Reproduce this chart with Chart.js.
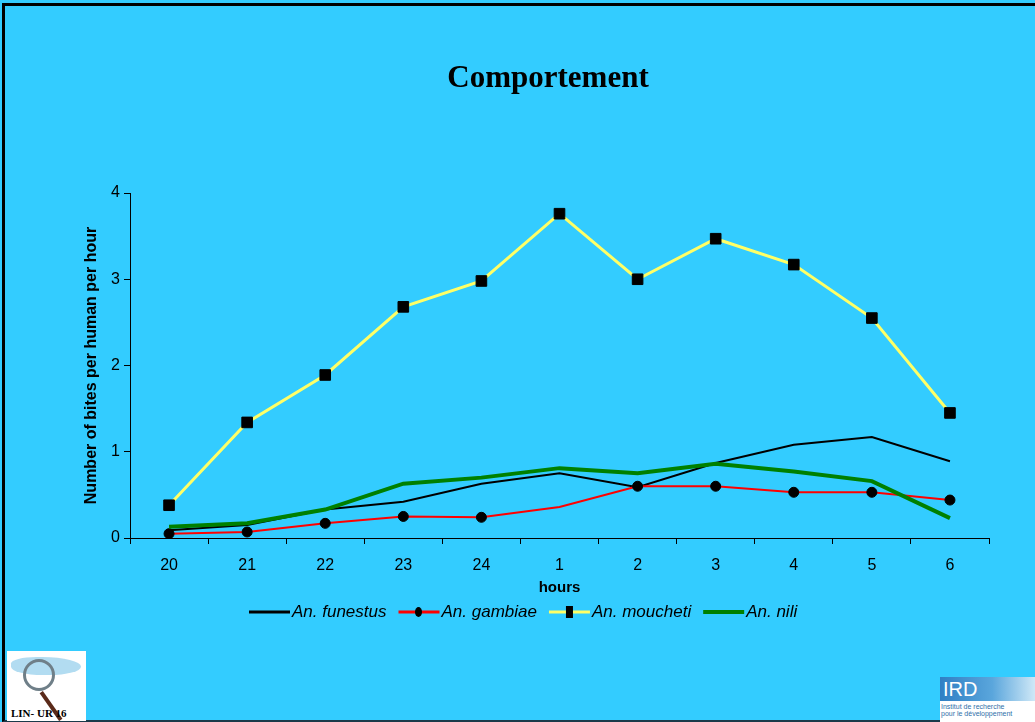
<!DOCTYPE html>
<html>
<head>
<meta charset="utf-8">
<title>Comportement</title>
<script src="https://cdn.jsdelivr.net/npm/chart.js@4.4.0/dist/chart.umd.min.js"></script>
<style>
    html, body { margin: 0; padding: 0; }
    body { width: 1035px; height: 722px; background: #33CCFF; position: relative; overflow: hidden; }
    #frame { position: absolute; left: 2px; top: 3px; width: 1040px; height: 714px;
             border-left: 3px solid #000; border-top: 3px solid #000; border-bottom: 2px solid #1a3a4a; }
    #myChart { position: absolute; left: 0; top: 0; }
    .logo-lin { position: absolute; left: 7px; top: 651px; width: 79px; height: 70px; background: #fff; overflow: hidden; }
    .logo-lin .map { position: absolute; left: 4px; top: 6px; width: 70px; height: 18px; background: #9fd3ee; border-radius: 40% 60% 50% 50%; opacity: .8; }
    .logo-lin .lens { position: absolute; left: 16px; top: 8px; width: 26px; height: 26px; border: 3px solid #6f7f88; border-radius: 50%; }
    .logo-lin .handle { position: absolute; left: 42px; top: 38px; width: 4px; height: 34px; background: #5a2a1a; transform: rotate(-35deg); }
    .logo-lin span { position: absolute; left: 4px; bottom: 2px; font: bold 11px "Liberation Serif", serif; color: #000; }
    .logo-ird { position: absolute; left: 940px; top: 677px; width: 95px; height: 45px; background: #fff; overflow: hidden; }
    .logo-ird .band { position: absolute; left: 0; top: 0; width: 95px; height: 24px;
                      background: linear-gradient(90deg, #2f7fc4 0%, #5aa6dc 55%, #cfe8f7 100%); }
    .logo-ird .band b { position: absolute; left: 3px; top: 1px; font: 20px "Liberation Sans", sans-serif; color: #fff; }
    .logo-ird small { position: absolute; left: 1px; top: 26px; font: 7px "Liberation Sans", sans-serif; color: #2f6fa8; white-space: nowrap; }
</style>
</head>
<body>
<div id="frame"></div>
<canvas id="myChart" width="1035" height="722"></canvas>
<div class="logo-lin"><div class="map"></div><div class="lens"></div><div class="handle"></div><span>LIN- UR 16</span></div>
<div class="logo-ird"><div class="band"><b>IRD</b></div><small>Institut de recherche<br>pour le développement</small></div>
<script>
// Titres et catégories
const chartTitle = 'Comportement';
const xTitle = 'hours';
const yTitle = 'Number of bites per human per hour';
const hours = ['20', '21', '22', '23', '24', '1', '2', '3', '4', '5', '6'];
const yTicks = [0, 1, 2, 3, 4];

// Valeurs (piqûres par homme par heure)
const funestus = [0.09, 0.15, 0.33, 0.42, 0.63, 0.75, 0.59, 0.87, 1.08, 1.17, 0.89];
const gambiae  = [0.05, 0.07, 0.17, 0.25, 0.24, 0.36, 0.60, 0.60, 0.53, 0.53, 0.44];
const moucheti = [0.38, 1.34, 1.89, 2.68, 2.98, 3.76, 3.00, 3.47, 3.17, 2.55, 1.45];
const nili     = [0.13, 0.17, 0.33, 0.63, 0.70, 0.81, 0.75, 0.86, 0.77, 0.66, 0.23];

// Titre + légende dessinés à la main (style diapo)
const slideDecor = {
    id: 'slideDecor',
    afterDraw(chart) {
        const ctx = chart.ctx;
        ctx.save();
        ctx.fillStyle = '#000';
        ctx.font = 'bold 31px "Liberation Serif"';
        ctx.textAlign = 'center';
        ctx.textBaseline = 'middle';
        ctx.fillText(chartTitle, 548, 79);

        ctx.font = 'italic 17px "Liberation Sans"';
        ctx.textAlign = 'left';
        let x = 249;
        const y = 612;
        // ordre de la légende = ordre des séries
        chart.data.datasets.forEach(ds => {
            ctx.strokeStyle = ds.borderColor;
            ctx.lineWidth = Math.max(ds.borderWidth, 3);
            ctx.beginPath();
            ctx.moveTo(x, y);
            ctx.lineTo(x + 41, y);
            ctx.stroke();
            ctx.fillStyle = '#000';
            if (ds.legendMarker === 'circle') {
                ctx.beginPath();
                ctx.ellipse(x + 20, y, 3.5, 5, 0, 0, Math.PI * 2);
                ctx.fill();
            } else if (ds.legendMarker === 'rect') {
                ctx.fillRect(x + 17, y - 6, 7, 12);
            }
            ctx.fillStyle = '#000';
            ctx.fillText(ds.label, x + 43, y);
            x += 43 + ctx.measureText(ds.label).width + 12;
        });
        ctx.restore();
    }
};

const ctx = document.getElementById('myChart').getContext('2d');
const myChart = new Chart(ctx, {
    type: 'line',
    data: {
        labels: hours,
        datasets: [{
            label: 'An. funestus',
            data: funestus,
            borderColor: '#000000',
            borderWidth: 2,
            pointRadius: 0,
            order: 4
        }, {
            label: 'An. gambiae',
            data: gambiae,
            borderColor: '#FF0000',
            borderWidth: 2,
            pointStyle: 'circle',
            pointRadius: [5, 5, 5, 5, 5, 0, 5, 5, 5, 5, 5], // pas de marqueur à 1h
            pointBackgroundColor: '#000',
            pointBorderColor: '#000',
            pointBorderWidth: 1,
            legendMarker: 'circle',
            order: 3
        }, {
            label: 'An. moucheti',
            data: moucheti,
            borderColor: '#FFFF66',
            borderWidth: 3,
            pointStyle: 'rect',
            pointRadius: 7.5,
            pointBackgroundColor: '#000',
            pointBorderColor: '#000',
            pointBorderWidth: 1,
            legendMarker: 'rect',
            order: 1
        }, {
            label: 'An. nili',
            data: nili,
            borderColor: '#008000',
            borderWidth: 4,
            pointRadius: 0,
            order: 2
        }]
    },
    plugins: [slideDecor],
    options: {
        responsive: false,
        animation: false,
        events: [],
        layout: {
            padding: { left: 82, right: 46, top: 193, bottom: 125 }
        },
        plugins: {
            legend: { display: false },
            title: { display: false },
            tooltip: { enabled: false }
        },
        scales: {
            x: {
                offset: true,
                grid: { offset: true, drawOnChartArea: false, color: '#000', tickLength: 6, tickWidth: 1 },
                border: { color: '#000', width: 1 },
                ticks: { color: '#000', padding: 12, font: { family: 'Liberation Sans', size: 16 } },
                title: {
                    display: true, text: xTitle, color: '#000', padding: 0,
                    font: { family: 'Liberation Sans', size: 15, weight: 'bold' }
                },
                afterFit: (scale) => { scale.height = 59; }
            },
            y: {
                min: 0,
                max: 4,
                grid: { drawOnChartArea: false, color: '#000', tickLength: 6, tickWidth: 1 },
                border: { color: '#000', width: 1 },
                afterBuildTicks: (scale) => { scale.ticks = yTicks.map(v => ({ value: v })); },
                ticks: { color: '#000', padding: 4, font: { family: 'Liberation Sans', size: 16 } },
                title: {
                    display: true, text: yTitle, color: '#000', padding: 0,
                    font: { family: 'Liberation Sans', size: 16, weight: 'bold' }
                },
                afterFit: (scale) => { scale.width = 48; }
            }
        }
    }
});
</script>
</body>
</html>
